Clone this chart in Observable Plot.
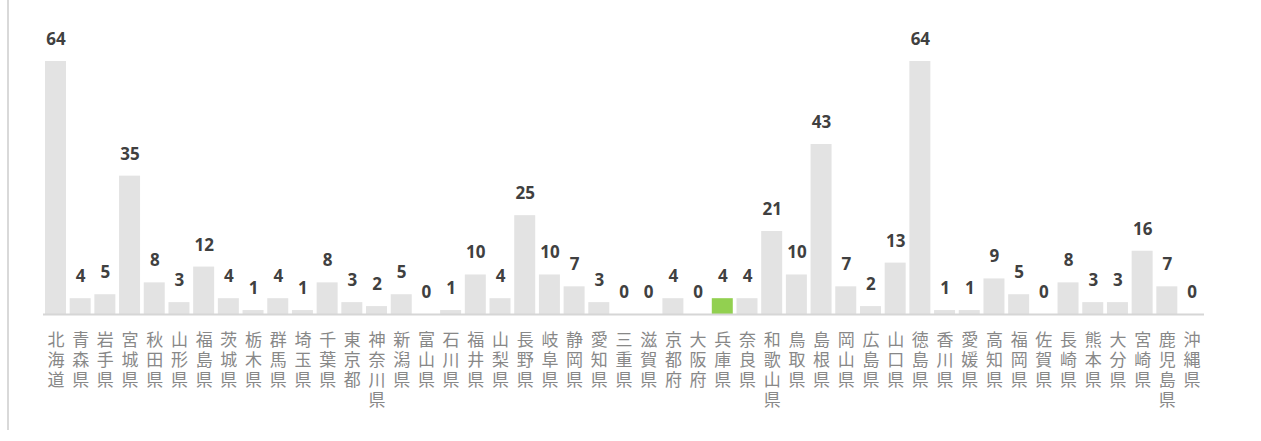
<!DOCTYPE html>
<html>
<head>
<meta charset="utf-8">
<script src="https://cdn.jsdelivr.net/npm/d3@7"></script>
<script src="https://cdn.jsdelivr.net/npm/@observablehq/plot@0.6"></script>
<style>
  html, body { margin: 0; padding: 0; background: #ffffff; }
  #wrap { position: relative; width: 1261px; height: 441px; overflow: hidden; }
  #border { position: absolute; left: 7px; top: 0; width: 0; height: 430px; border-left: 2px solid #d9d9d9; }
  #chart { position: absolute; left: 0; top: 0; }
</style>
</head>
<body>
<div id="wrap"><div id="border"></div><div id="chart"></div></div>
<script>
const prefectures = ["北海道","青森県","岩手県","宮城県","秋田県","山形県","福島県","茨城県","栃木県","群馬県","埼玉県","千葉県","東京都","神奈川県","新潟県","富山県","石川県","福井県","山梨県","長野県","岐阜県","静岡県","愛知県","三重県","滋賀県","京都府","大阪府","兵庫県","奈良県","和歌山県","鳥取県","島根県","岡山県","広島県","山口県","徳島県","香川県","愛媛県","高知県","福岡県","佐賀県","長崎県","熊本県","大分県","宮崎県","鹿児島県","沖縄県"];
const values = [64,4,5,35,8,3,12,4,1,4,1,8,3,2,5,0,1,10,4,25,10,7,3,0,0,4,0,4,4,21,10,43,7,2,13,64,1,1,9,5,0,8,3,3,16,7,0];
const highlight = ["兵庫県"];

const table = prefectures.map((name, i) => ({name, value: values[i], hl: highlight.includes(name)}));

const chart = Plot.plot({
  width: 1261,
  height: 441,
  marginLeft: 43,
  marginRight: 57,
  marginTop: 61,
  marginBottom: 127,
  x: {domain: prefectures, paddingInner: 0.15, paddingOuter: 0.08, axis: null},
  y: {domain: [0, 64], axis: null},
  style: {background: "transparent", overflow: "visible"},
  marks: [
    Plot.barY(table, {x: "name", y: "value", fill: d => d.hl ? "#92d050" : "#e3e3e3"}),
    Plot.ruleY([0], {stroke: "#d6d6d6", strokeWidth: 2}),
    Plot.text(table, {x: "name", y: "value", text: d => String(d.value), dy: -22,
      fill: "#404040", fontSize: 17, fontWeight: 700, fontFamily: "Open Sans, sans-serif"}),
    Plot.text(table, {x: "name", frameAnchor: "bottom", text: d => d.name.split("").join("\n"),
      lineAnchor: "top", lineHeight: 1.18, dy: 17, fill: "#888888", fontSize: 17,
      fontFamily: "Noto Sans CJK JP, sans-serif"})
  ]
});
document.getElementById("chart").appendChild(chart);
</script>
</body>
</html>
